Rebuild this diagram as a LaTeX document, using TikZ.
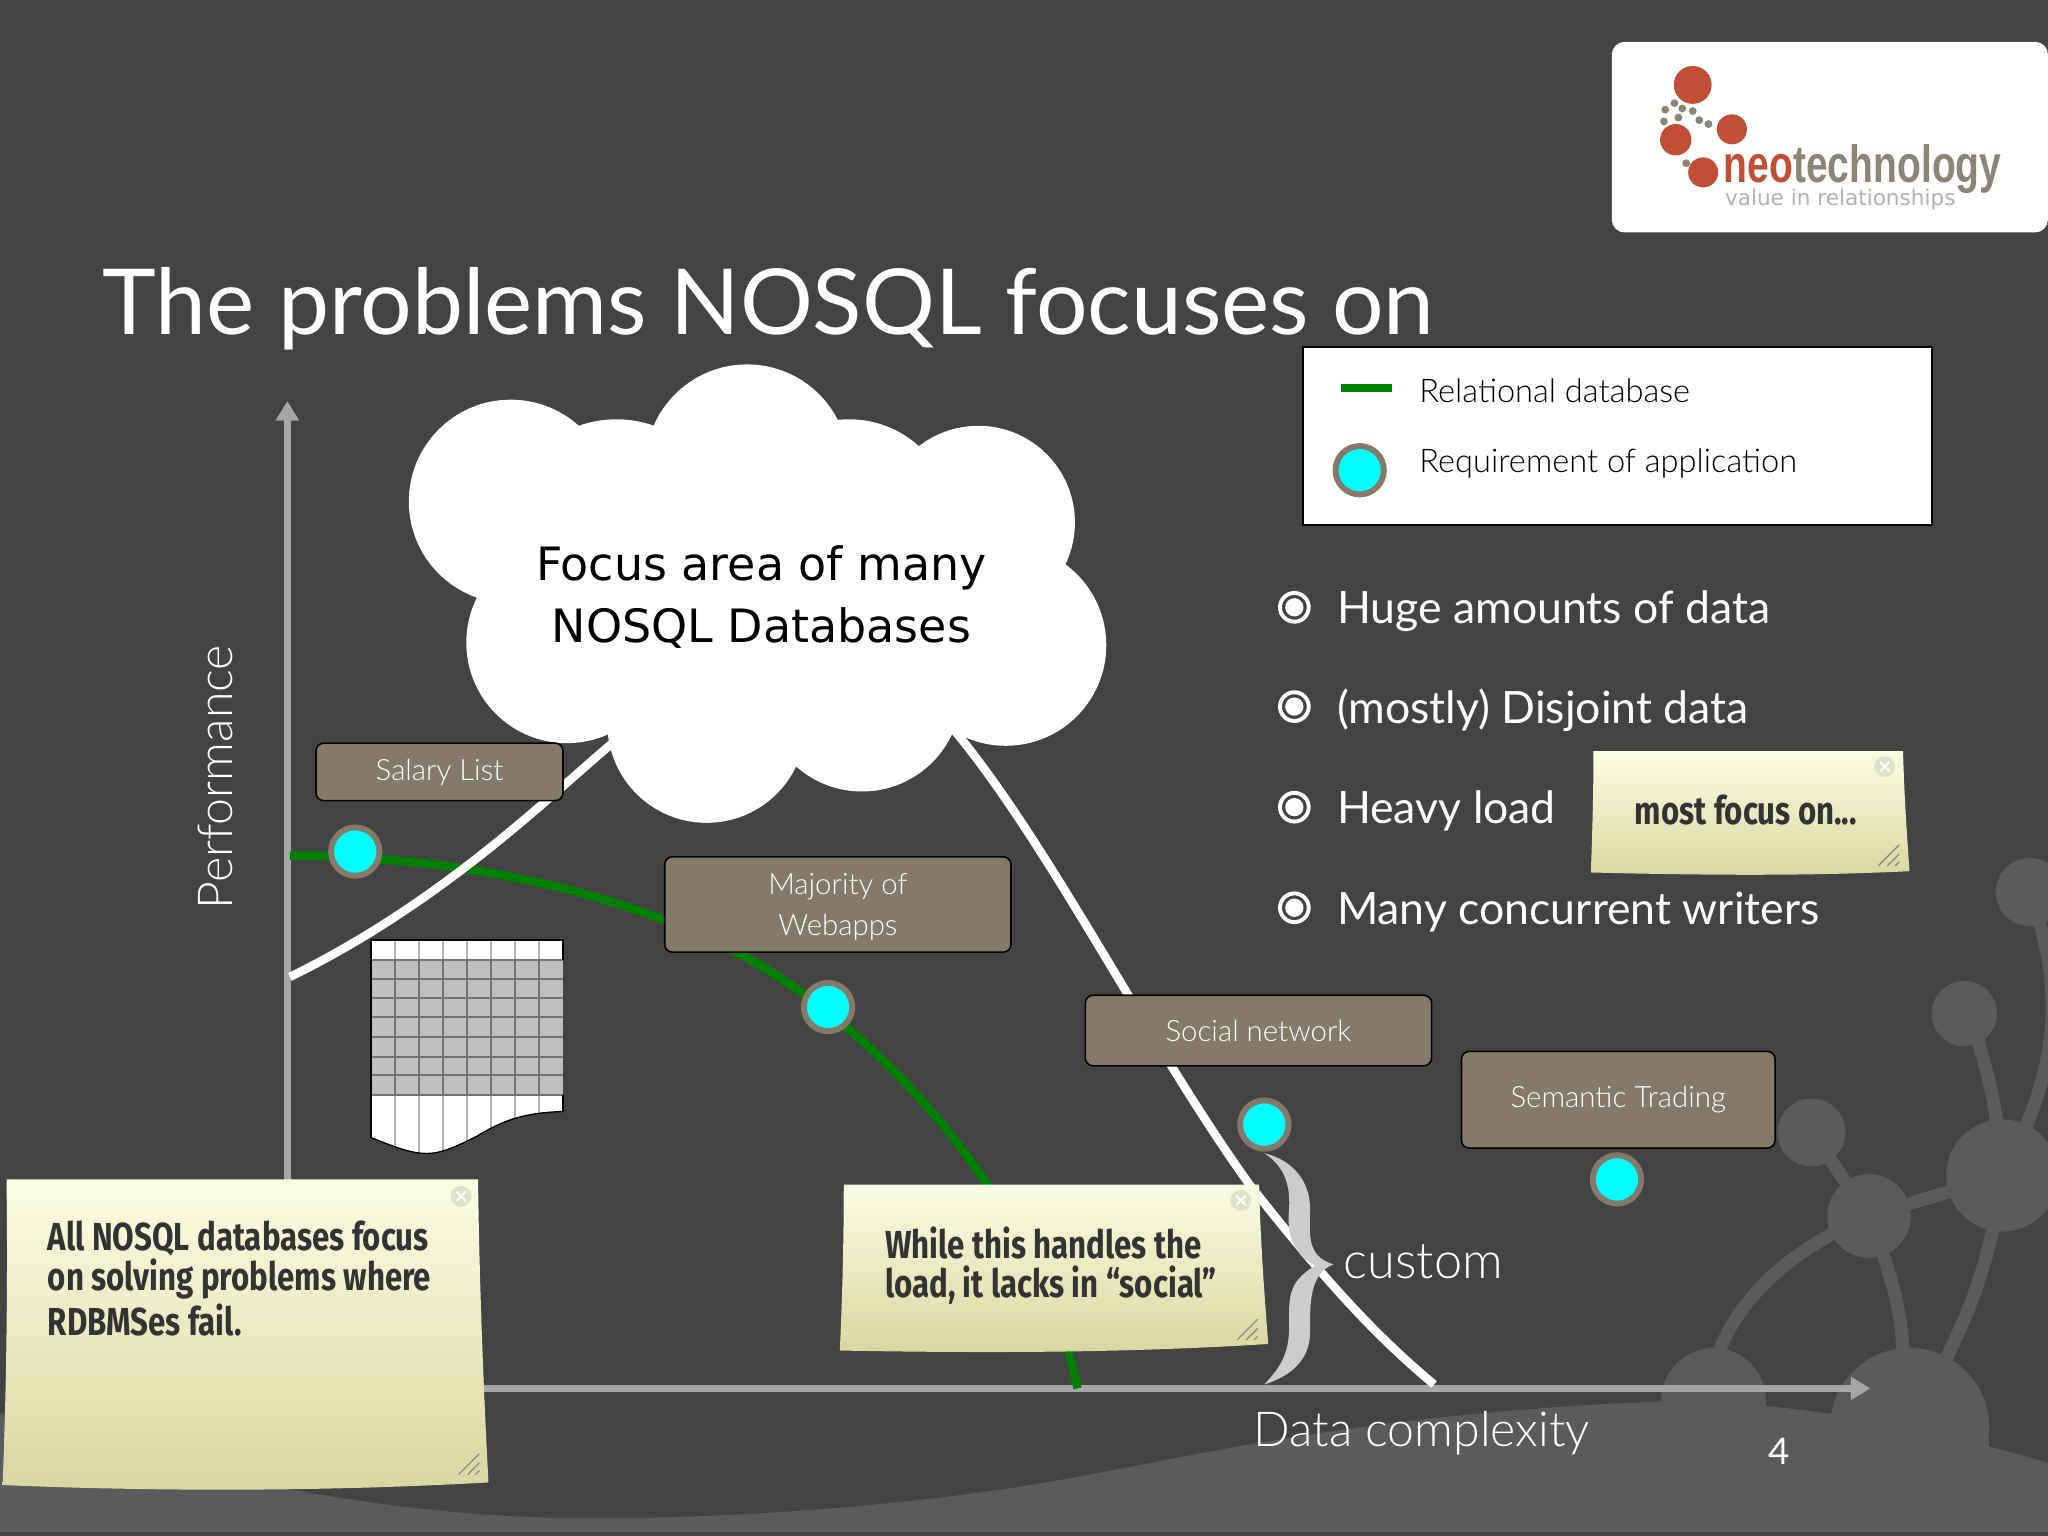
\documentclass[tikz,border=0pt]{standalone}
\usepackage{fontspec}
\usetikzlibrary{arrows.meta}
\setmainfont{Lato Light}
\newfontfamily\headfont{Lato}
\newfontfamily\cloudfont{DejaVu Sans}
\newfontfamily\notefont[FakeStretch=0.8]{Fira Sans}
\newfontfamily\logofont[FakeStretch=0.746]{Liberation Sans}
\newcommand{\pxu}{0.2845pt}
\definecolor{slidegray}{HTML}{434344}
\definecolor{hillgray}{HTML}{5B5B5D}
\definecolor{boxtan}{HTML}{85796A}
\definecolor{axisgray}{HTML}{A6A6A8}
\definecolor{brickred}{HTML}{C04F35}
\definecolor{dotgray}{HTML}{8A8676}
\definecolor{reqcyan}{HTML}{00FFFF}
\definecolor{linegreen}{HTML}{008000}
\definecolor{notetop}{HTML}{FBFDE2}
\definecolor{notebottom}{HTML}{D8D7A0}
\definecolor{closegray}{HTML}{DFE3C8}
\tikzset{
  plotline/.style={line width=6.5*\pxu},
  hillstick/.style={hillgray,line width=10*\pxu},
  axisline/.style={axisgray,line width=5*\pxu,-{Triangle[length=15*\pxu,width=17*\pxu]}},
  labelbox/.style={draw=black,line width=1.2*\pxu,fill=boxtan,rounded corners=6*\pxu,text=white,align=center,font=\fontsize{6.4}{8.8}\selectfont,inner sep=0},
  reqdot/.style={circle,fill=reqcyan,draw=boxtan,line width=4.5*\pxu,minimum size=37*\pxu,inner sep=0},
  bulletdot/.style={circle,draw=white,line width=3*\pxu,minimum size=22*\pxu,inner sep=0},
  notetext/.style={anchor=west,align=left,text=black!80,font=\notefont\bfseries\fontsize{8.5}{8.7}\selectfont,inner sep=0},
  closedot/.style={circle,fill=closegray,minimum size=16*\pxu,inner sep=0},
  noteshade/.style={top color=notetop,bottom color=notebottom},
  whitetext/.style={text=white,inner sep=0},
  plaintext/.style={text=black,anchor=west,inner sep=0,font=\fontsize{7.1}{9}\selectfont},
  bullettext/.style={text=white,anchor=west,inner sep=0,yshift=-3*\pxu,font=\headfont\fontsize{9.7}{11}\selectfont},
}
\begin{document}
\begin{tikzpicture}[x=0.01cm,y=-0.01cm]
\useasboundingbox (0,0) rectangle (1568,1176);
\fill[slidegray] (0,0) rectangle (1568,1176);
% watermark
\fill[hillgray] (0,1082) .. controls (90,1115) and (260,1158) .. (422,1162) .. controls (560,1165) and (720,1150) .. (812,1133) .. controls (900,1118) and (1040,1082) .. (1271,1073) .. controls (1350,1072) and (1450,1085) .. (1568,1120) -- (1568,1173) -- (0,1173) -- cycle;
\fill[hillgray] (1312,1072) circle [radius=40];
\fill[hillgray] (1272,1072) rectangle (1352,1090);
\fill[hillgray] (1462,1093) circle [radius=61];
\fill[hillgray] (1401,1093) rectangle (1523,1120);
\fill[hillgray] (1431,931) circle [radius=32];
\fill[hillgray] (1533,900) circle [radius=43];
\fill[hillgray] (1387,867) circle [radius=26];
\fill[hillgray] (1504,776) circle [radius=25];
\fill[hillgray] (1554,683) circle [radius=26];
\draw[hillstick] (1387,867) -- (1431,931) -- (1533,900);
\draw[hillstick] (1431,931) .. controls (1375,955) and (1332,990) .. (1314,1040);
\draw[hillstick] (1431,931) .. controls (1450,980) and (1457,1010) .. (1457,1040);
\draw[hillstick] (1533,900) .. controls (1525,960) and (1510,1000) .. (1490,1040);
\draw[hillstick] (1533,900) .. controls (1530,850) and (1520,810) .. (1508,780);
\draw[hillstick] (1554,683) .. controls (1578,750) and (1582,810) .. (1533,900);
% axes
\coordinate (origin) at (220,1063);
\coordinate (xend) at (1432,1063);
\coordinate (yend) at (220,307);
\draw[axisline] (origin) -- (xend);
\draw[axisline] (origin) -- (yend);
% curves
\draw[plotline,linegreen] (222,655) .. controls (340,655) and (480,680) .. (580,738) .. controls (695,805) and (800,940) .. (825,1063);
\draw[plotline,white] (222,748) .. controls (340,690) and (420,610) .. (470,568) .. controls (540,500) and (660,480) .. (733,562) .. controls (805,650) and (880,800) .. (956,906) .. controls (1010,975) and (1050,1020) .. (1098,1060);
% cloud
\fill[white] (572,357) circle [radius=78];
\fill[white] (391,384) circle [radius=78];
\fill[white] (472,406) circle [radius=85];
\fill[white] (650,401) circle [radius=80];
\fill[white] (749,400) circle [radius=74];
\fill[white] (770,494) circle [radius=77];
\fill[white] (434,492) circle [radius=77];
\fill[white] (541,554) circle [radius=76];
\fill[white] (660,530) circle [radius=76];
\fill[white] (580,450) circle [radius=120];
\node[text=black,align=center,font=\cloudfont\fontsize{10}{13.5}\selectfont,inner sep=0] (cloudtext) at (583,457) {Focus area of many\\NOSQL Databases};
% table
\fill[white] (284,720) -- (431,720) -- (431,851) .. controls (400,852) and (385,858) .. (365,870) .. controls (345,880) and (335,884) .. (323,883) .. controls (310,882) and (295,875) .. (284,871) -- cycle;
\fill[black!25] (284,735) rectangle (431,838);
\begin{scope}
\clip (284,720) -- (431,720) -- (431,851) .. controls (400,852) and (385,858) .. (365,870) .. controls (345,880) and (335,884) .. (323,883) .. controls (310,882) and (295,875) .. (284,871) -- cycle;
\foreach \col in {1,...,7}
  \draw[black!30,line width=1.5*\pxu] (284+18.4*\col,720) -- (284+18.4*\col,885);
\end{scope}
\foreach \col in {1,...,7}
  \draw[black!55,line width=1.5*\pxu] (284+18.4*\col,735) -- (284+18.4*\col,838);
\foreach \row in {735,749.6,764,779,794,809,823,838}
  \draw[black!55,line width=1.5*\pxu] (284,\row) -- (431,\row);
\draw[black,line width=1.5*\pxu] (284,871) -- (284,720) -- (431,720) -- (431,735);
\draw[black,line width=1.5*\pxu] (431,838) -- (431,851);
\draw[black,line width=1*\pxu] (431,851) .. controls (400,852) and (385,858) .. (365,870) .. controls (345,880) and (335,884) .. (323,883) .. controls (310,882) and (295,875) .. (284,871);
% boxes
\node[labelbox,minimum width=189*\pxu,minimum height=44*\pxu] (salary) at (336.5,591) {Salary List};
\node[labelbox,minimum width=265*\pxu,minimum height=73*\pxu,text depth=0pt] (webapps) at (641.5,692.5) {Majority of\\Webapps};
\node[labelbox,minimum width=265*\pxu,minimum height=54*\pxu] (social) at (963.5,789) {Social network};
\node[labelbox,minimum width=240*\pxu,minimum height=74*\pxu] (semantic) at (1239,842) {Semantic Trading};
\node[reqdot] (reqsalary) at (272,652) {};
\node[reqdot] (reqwebapps) at (634,771) {};
\node[reqdot] (reqsocial) at (968,861) {};
\node[reqdot] (reqsemantic) at (1238,903) {};
% legend
\node[draw=black,fill=white,line width=1.5*\pxu,minimum width=481*\pxu,minimum height=136*\pxu,inner sep=0] (legend) at (1238.5,334) {};
\coordinate (greena) at (1027,297);
\coordinate (greenb) at (1066,297);
\draw[plotline,linegreen] (greena) -- (greenb);
\node[reqdot] (reqlegend) at (1041,360) {};
\node[plaintext] (relational) at (1086,299) {Relational database};
\node[plaintext] (requirement) at (1086,355) {Requirement of application};
% bullets
\foreach \name/\ypos/\txt in {huge/465/Huge amounts of data,disjoint/541/(mostly) Disjoint data,heavy/618/Heavy load,writers/695/Many concurrent writers} {
  \node[bulletdot] (dot\name) at (991,\ypos) {};
  \fill[white] (dot\name.center) circle [radius=7];
  \node[bullettext] (\name) at (1023,\ypos) {\txt};
}
% notes
\shade[noteshade] (5,903) -- (366,903) .. controls (367,980) and (370,1060) .. (374,1135) .. controls (250,1142) and (120,1142) .. (2,1137) .. controls (5,1060) and (6,980) .. (5,903) -- cycle;
\shade[noteshade] (646,907) -- (964,907) .. controls (965,950) and (968,990) .. (971,1029) .. controls (860,1036) and (750,1036) .. (643,1034) .. controls (645,990) and (646,950) .. (646,907) -- cycle;
\shade[noteshade] (1220,575) -- (1457,575) .. controls (1458,610) and (1460,640) .. (1462,667) .. controls (1380,671) and (1300,670) .. (1218,668) .. controls (1219,640) and (1220,610) .. (1220,575) -- cycle;
\node[closedot] (closea) at (353,916) {};
\node[closedot] (closeb) at (950,919) {};
\node[closedot] (closec) at (1443,587) {};
\foreach \spot in {closea,closeb,closec} {
  \draw[white,line width=1.5*\pxu] ([shift={(-3.5,-3.5)}]\spot.center) -- ([shift={(3.5,3.5)}]\spot.center);
  \draw[white,line width=1.5*\pxu] ([shift={(-3.5,3.5)}]\spot.center) -- ([shift={(3.5,-3.5)}]\spot.center);
}
\foreach \xc/\yc in {367/1129,963/1026,1454/663} {
  \draw[black!45,line width=1*\pxu] (\xc-16,\yc) -- (\xc,\yc-16);
  \draw[black!45,line width=1*\pxu] (\xc-9,\yc) -- (\xc,\yc-9);
  \draw[black!45,line width=1*\pxu] (\xc-3,\yc) -- (\xc,\yc-3);
}
\node[notetext] (notea) at (36,979) {All NOSQL databases focus\\on solving problems where\\RDBMSes fail.};
\node[notetext] (noteb) at (677,969) {While this handles the\\load, it lacks in “social”};
\node[notetext] (notec) at (1251,620) {most focus on...};
% brace
\fill[black!20] (968,883) .. controls (990,888) and (1003,905) .. (1003,925) .. controls (1003,945) and (1000,962) .. (1021,968) .. controls (1002,975) and (1003,1000) .. (1003,1020) .. controls (1003,1040) and (990,1053) .. (968,1060) .. controls (982,1045) and (987,1035) .. (987,1015) .. controls (987,995) and (985,982) .. (1007,969) .. controls (990,960) and (985,945) .. (987,925) .. controls (988,905) and (982,892) .. (968,883) -- cycle;
% labels
\node[whitetext,anchor=west,font=\fontsize{11}{12}\selectfont] (custom) at (1028,966) {custom};
\node[whitetext,anchor=west,font=\fontsize{10.5}{12}\selectfont] (complexity) at (959,1097) {Data complexity};
\node[whitetext,rotate=90,font=\fontsize{10.5}{12}\selectfont] (performance) at (165,595) {Performance};
\node[whitetext,font=\headfont\fontsize{8}{9}\selectfont] (pagenum) at (1362,1111) {4};
\node[whitetext,anchor=base west,font=\headfont\fontsize{19.83}{22}\selectfont] (title) at (78,256) {The problems NOSQL focuses on};
% logo
\fill[white,rounded corners=10*\pxu] (1234,32) rectangle (1568,178);
\fill[brickred] (1296,65) circle [radius=14.5];
\fill[brickred] (1326,99) circle [radius=11.5];
\fill[brickred] (1283,107) circle [radius=12];
\fill[brickred] (1304,132) circle [radius=11.5];
\foreach \xc/\yc in {1282/79,1275/84,1288/83,1296/85,1274/93,1285/90,1301/92,1308/95,1291/125}
  \fill[dotgray] (\xc,\yc) circle [radius=3];
\node[anchor=base west,inner sep=0,font=\logofont\bfseries\fontsize{11.4}{12}\selectfont] (logoname) at (1319,140) {\textcolor{brickred}{neo}\textcolor{dotgray}{technology}};
\node[anchor=base west,inner sep=0,text=black!30,font=\cloudfont\fontsize{4.7}{6}\selectfont] (logotag) at (1320,157) {value in relationships};
\end{tikzpicture}
\end{document}
